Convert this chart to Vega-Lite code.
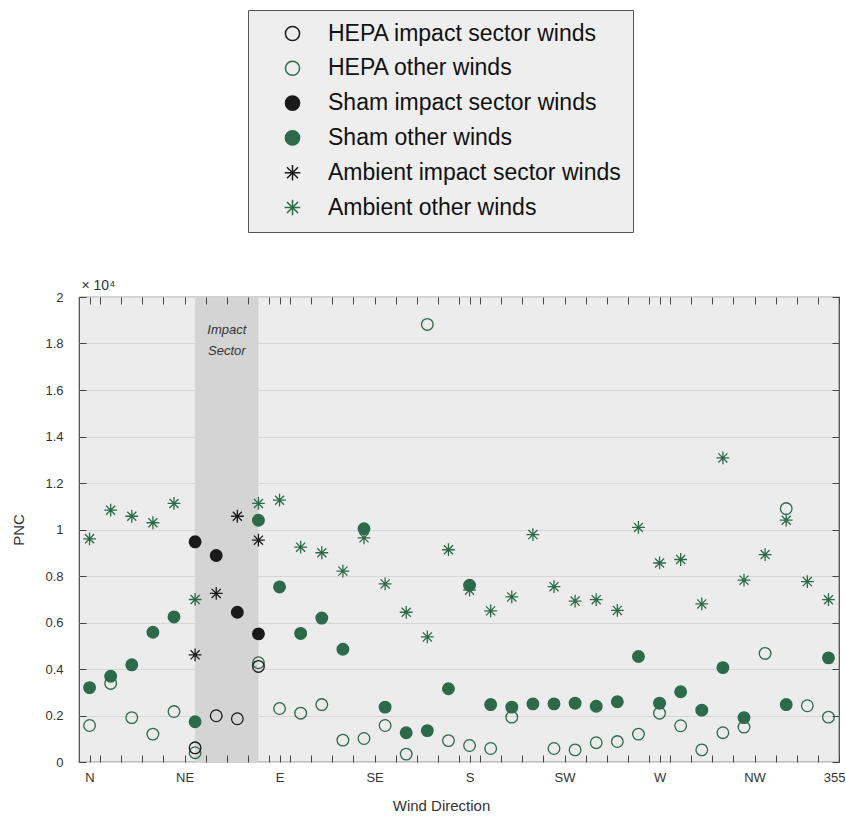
{
  "$schema": "https://vega.github.io/schema/vega-lite/v6.json",
  "width": 760,
  "height": 465,
  "autosize": {"type": "none"},
  "padding": {"left": 79, "top": 297, "right": 7, "bottom": 56},
  "background": "white",
  "config": {
    "font": "Liberation Sans",
    "view": {"fill": "#ececec", "stroke": "#444444", "strokeWidth": 1.2},
    "axis": {
      "domain": false,
      "labelFont": "Liberation Sans",
      "labelFontSize": 13,
      "labelColor": "#333333",
      "tickColor": "#444444",
      "tickWidth": 1,
      "titleFont": "Liberation Sans",
      "titleFontSize": 15,
      "titleFontWeight": "normal",
      "titleColor": "#333333"
    }
  },
  "resolve": {"axis": {"x": "independent", "y": "independent"}},
  "layer": [
    {
      "data": {"values": [{"from": 50, "to": 80}]},
      "mark": {"type": "rect", "color": "#d4d4d4"},
      "encoding": {
        "x": {
          "field": "from",
          "type": "quantitative",
          "scale": {"domain": [-5, 355], "nice": false, "zero": false},
          "axis": {
            "orient": "bottom",
            "values": [0, 5, 15, 25, 35, 45, 55, 65, 75, 85, 90, 95, 105, 115, 125, 135, 145, 155, 165, 175, 180, 185, 195, 205, 215, 225, 235, 245, 255, 265, 270, 275, 285, 295, 305, 315, 325, 335, 345, 355],
            "labelExpr": "datum.value == 0 ? 'N' : datum.value == 45 ? 'NE' : datum.value == 90 ? 'E' : datum.value == 135 ? 'SE' : datum.value == 180 ? 'S' : datum.value == 225 ? 'SW' : datum.value == 270 ? 'W' : datum.value == 315 ? 'NW' : datum.value == 355 ? '355' : ''",
            "labelOverlap": false,
            "labelFlush": true,
            "labelFlushOffset": 6,
            "tickSize": -7,
            "labelPadding": 16,
            "grid": false,
            "title": "Wind Direction",
            "titlePadding": 14,
            "titleX": 362,
            "zindex": 1
          }
        },
        "x2": {"field": "to"},
        "y": {
          "datum": 0,
          "type": "quantitative",
          "scale": {"domain": [0, 20000], "nice": false, "zero": true},
          "axis": {
            "orient": "left",
            "values": [0, 2000, 4000, 6000, 8000, 10000, 12000, 14000, 16000, 18000, 20000],
            "labelExpr": "format(datum.value / 10000, '~g')",
            "grid": true,
            "gridColor": "#d6d6d6",
            "gridWidth": 1,
            "tickSize": -7,
            "labelPadding": 23,
            "title": "PNC",
            "titlePadding": 18,
            "zindex": 0
          }
        },
        "y2": {"datum": 20000}
      }
    },
    {
      "data": {
        "values": [
          {"dir": 0, "pnc": 9600, "series": "Ambient other winds"},
          {"dir": 10, "pnc": 10830, "series": "Ambient other winds"},
          {"dir": 20, "pnc": 10570, "series": "Ambient other winds"},
          {"dir": 30, "pnc": 10290, "series": "Ambient other winds"},
          {"dir": 40, "pnc": 11120, "series": "Ambient other winds"},
          {"dir": 50, "pnc": 6990, "series": "Ambient other winds"},
          {"dir": 80, "pnc": 11120, "series": "Ambient other winds"},
          {"dir": 90, "pnc": 11260, "series": "Ambient other winds"},
          {"dir": 100, "pnc": 9240, "series": "Ambient other winds"},
          {"dir": 110, "pnc": 9000, "series": "Ambient other winds"},
          {"dir": 120, "pnc": 8210, "series": "Ambient other winds"},
          {"dir": 130, "pnc": 9640, "series": "Ambient other winds"},
          {"dir": 140, "pnc": 7660, "series": "Ambient other winds"},
          {"dir": 150, "pnc": 6440, "series": "Ambient other winds"},
          {"dir": 160, "pnc": 5380, "series": "Ambient other winds"},
          {"dir": 170, "pnc": 9130, "series": "Ambient other winds"},
          {"dir": 180, "pnc": 7390, "series": "Ambient other winds"},
          {"dir": 190, "pnc": 6500, "series": "Ambient other winds"},
          {"dir": 200, "pnc": 7100, "series": "Ambient other winds"},
          {"dir": 210, "pnc": 9780, "series": "Ambient other winds"},
          {"dir": 220, "pnc": 7540, "series": "Ambient other winds"},
          {"dir": 230, "pnc": 6920, "series": "Ambient other winds"},
          {"dir": 240, "pnc": 6980, "series": "Ambient other winds"},
          {"dir": 250, "pnc": 6520, "series": "Ambient other winds"},
          {"dir": 260, "pnc": 10090, "series": "Ambient other winds"},
          {"dir": 270, "pnc": 8560, "series": "Ambient other winds"},
          {"dir": 280, "pnc": 8710, "series": "Ambient other winds"},
          {"dir": 290, "pnc": 6800, "series": "Ambient other winds"},
          {"dir": 300, "pnc": 13080, "series": "Ambient other winds"},
          {"dir": 310, "pnc": 7820, "series": "Ambient other winds"},
          {"dir": 320, "pnc": 8920, "series": "Ambient other winds"},
          {"dir": 330, "pnc": 10400, "series": "Ambient other winds"},
          {"dir": 340, "pnc": 7760, "series": "Ambient other winds"},
          {"dir": 350, "pnc": 6980, "series": "Ambient other winds"},
          {"dir": 50, "pnc": 4610, "series": "Ambient impact sector winds"},
          {"dir": 60, "pnc": 7250, "series": "Ambient impact sector winds"},
          {"dir": 70, "pnc": 10570, "series": "Ambient impact sector winds"},
          {"dir": 80, "pnc": 9540, "series": "Ambient impact sector winds"},
          {"dir": 0, "pnc": 3200, "series": "Sham other winds"},
          {"dir": 10, "pnc": 3690, "series": "Sham other winds"},
          {"dir": 20, "pnc": 4180, "series": "Sham other winds"},
          {"dir": 30, "pnc": 5580, "series": "Sham other winds"},
          {"dir": 40, "pnc": 6240, "series": "Sham other winds"},
          {"dir": 50, "pnc": 1730, "series": "Sham other winds"},
          {"dir": 80, "pnc": 10400, "series": "Sham other winds"},
          {"dir": 90, "pnc": 7530, "series": "Sham other winds"},
          {"dir": 100, "pnc": 5530, "series": "Sham other winds"},
          {"dir": 110, "pnc": 6190, "series": "Sham other winds"},
          {"dir": 120, "pnc": 4850, "series": "Sham other winds"},
          {"dir": 130, "pnc": 10030, "series": "Sham other winds"},
          {"dir": 140, "pnc": 2360, "series": "Sham other winds"},
          {"dir": 150, "pnc": 1260, "series": "Sham other winds"},
          {"dir": 160, "pnc": 1350, "series": "Sham other winds"},
          {"dir": 170, "pnc": 3150, "series": "Sham other winds"},
          {"dir": 180, "pnc": 7600, "series": "Sham other winds"},
          {"dir": 190, "pnc": 2470, "series": "Sham other winds"},
          {"dir": 200, "pnc": 2360, "series": "Sham other winds"},
          {"dir": 210, "pnc": 2500, "series": "Sham other winds"},
          {"dir": 220, "pnc": 2500, "series": "Sham other winds"},
          {"dir": 230, "pnc": 2530, "series": "Sham other winds"},
          {"dir": 240, "pnc": 2400, "series": "Sham other winds"},
          {"dir": 250, "pnc": 2590, "series": "Sham other winds"},
          {"dir": 260, "pnc": 4540, "series": "Sham other winds"},
          {"dir": 270, "pnc": 2530, "series": "Sham other winds"},
          {"dir": 280, "pnc": 3020, "series": "Sham other winds"},
          {"dir": 290, "pnc": 2230, "series": "Sham other winds"},
          {"dir": 300, "pnc": 4060, "series": "Sham other winds"},
          {"dir": 310, "pnc": 1910, "series": "Sham other winds"},
          {"dir": 330, "pnc": 2470, "series": "Sham other winds"},
          {"dir": 350, "pnc": 4480, "series": "Sham other winds"},
          {"dir": 50, "pnc": 9470, "series": "Sham impact sector winds"},
          {"dir": 60, "pnc": 8880, "series": "Sham impact sector winds"},
          {"dir": 70, "pnc": 6440, "series": "Sham impact sector winds"},
          {"dir": 80, "pnc": 5510, "series": "Sham impact sector winds"},
          {"dir": 0, "pnc": 1570, "series": "HEPA other winds"},
          {"dir": 10, "pnc": 3380, "series": "HEPA other winds"},
          {"dir": 20, "pnc": 1910, "series": "HEPA other winds"},
          {"dir": 30, "pnc": 1200, "series": "HEPA other winds"},
          {"dir": 40, "pnc": 2170, "series": "HEPA other winds"},
          {"dir": 50, "pnc": 400, "series": "HEPA other winds"},
          {"dir": 80, "pnc": 4270, "series": "HEPA other winds"},
          {"dir": 90, "pnc": 2300, "series": "HEPA other winds"},
          {"dir": 100, "pnc": 2100, "series": "HEPA other winds"},
          {"dir": 110, "pnc": 2470, "series": "HEPA other winds"},
          {"dir": 120, "pnc": 940, "series": "HEPA other winds"},
          {"dir": 130, "pnc": 1010, "series": "HEPA other winds"},
          {"dir": 140, "pnc": 1570, "series": "HEPA other winds"},
          {"dir": 150, "pnc": 340, "series": "HEPA other winds"},
          {"dir": 160, "pnc": 18820, "series": "HEPA other winds"},
          {"dir": 170, "pnc": 920, "series": "HEPA other winds"},
          {"dir": 180, "pnc": 710, "series": "HEPA other winds"},
          {"dir": 190, "pnc": 580, "series": "HEPA other winds"},
          {"dir": 200, "pnc": 1930, "series": "HEPA other winds"},
          {"dir": 220, "pnc": 580, "series": "HEPA other winds"},
          {"dir": 230, "pnc": 520, "series": "HEPA other winds"},
          {"dir": 240, "pnc": 830, "series": "HEPA other winds"},
          {"dir": 250, "pnc": 880, "series": "HEPA other winds"},
          {"dir": 260, "pnc": 1200, "series": "HEPA other winds"},
          {"dir": 270, "pnc": 2100, "series": "HEPA other winds"},
          {"dir": 280, "pnc": 1560, "series": "HEPA other winds"},
          {"dir": 290, "pnc": 520, "series": "HEPA other winds"},
          {"dir": 300, "pnc": 1260, "series": "HEPA other winds"},
          {"dir": 310, "pnc": 1500, "series": "HEPA other winds"},
          {"dir": 320, "pnc": 4670, "series": "HEPA other winds"},
          {"dir": 330, "pnc": 10900, "series": "HEPA other winds"},
          {"dir": 340, "pnc": 2420, "series": "HEPA other winds"},
          {"dir": 350, "pnc": 1930, "series": "HEPA other winds"},
          {"dir": 50, "pnc": 610, "series": "HEPA impact sector winds"},
          {"dir": 60, "pnc": 1990, "series": "HEPA impact sector winds"},
          {"dir": 70, "pnc": 1860, "series": "HEPA impact sector winds"},
          {"dir": 80, "pnc": 4110, "series": "HEPA impact sector winds"}
        ]
      },
      "mark": {"type": "point", "opacity": 1, "strokeWidth": 1.3, "size": 135},
      "encoding": {
        "x": {
          "field": "dir",
          "type": "quantitative",
          "axis": {
            "orient": "top",
            "values": [0, 5, 15, 25, 35, 45, 55, 65, 75, 85, 90, 95, 105, 115, 125, 135, 145, 155, 165, 175, 180, 185, 195, 205, 215, 225, 235, 245, 255, 265, 270, 275, 285, 295, 305, 315, 325, 335, 345, 355],
            "labels": false,
            "tickSize": -7,
            "grid": false,
            "title": "× 10⁴",
            "titleFont": "Liberation Sans",
            "titleFontSize": 14,
            "titleAnchor": "start",
            "titleAlign": "left",
            "titleX": 2,
            "titlePadding": 4,
            "zindex": 1
          }
        },
        "y": {
          "field": "pnc",
          "type": "quantitative",
          "axis": {
            "orient": "right",
            "values": [0, 2000, 4000, 6000, 8000, 10000, 12000, 14000, 16000, 18000, 20000],
            "labels": false,
            "tickSize": -7,
            "grid": false,
            "title": null,
            "zindex": 1
          }
        },
        "shape": {
          "field": "series",
          "type": "nominal",
          "scale": {
            "domain": ["HEPA impact sector winds", "HEPA other winds", "Sham impact sector winds", "Sham other winds", "Ambient impact sector winds", "Ambient other winds"],
            "range": ["circle", "circle", "circle", "circle", "M-1.1,0L1.1,0M0,-1.1L0,1.1M-0.78,-0.78L0.78,0.78M-0.78,0.78L0.78,-0.78", "M-1.1,0L1.1,0M0,-1.1L0,1.1M-0.78,-0.78L0.78,0.78M-0.78,0.78L0.78,-0.78"]
          },
          "legend": {
            "orient": "none",
            "legendX": 169,
            "legendY": -287,
            "title": null,
            "padding": 12,
            "rowPadding": 10.8,
            "symbolOffset": 21,
            "labelOffset": 24,
            "symbolSize": 200,
            "symbolStrokeWidth": 1.5,
            "labelFont": "Liberation Sans",
            "labelFontSize": 23,
            "labelColor": "#111111",
            "labelLimit": 500,
            "strokeColor": "#555555",
            "fillColor": "#eeeeee"
          }
        },
        "stroke": {
          "field": "series",
          "type": "nominal",
          "scale": {
            "domain": ["HEPA impact sector winds", "HEPA other winds", "Sham impact sector winds", "Sham other winds", "Ambient impact sector winds", "Ambient other winds"],
            "range": ["#1a1a1a", "#2c6a4b", "#1a1a1a", "#2c6a4b", "#1a1a1a", "#2c6a4b"]
          }
        },
        "fill": {
          "field": "series",
          "type": "nominal",
          "scale": {
            "domain": ["HEPA impact sector winds", "HEPA other winds", "Sham impact sector winds", "Sham other winds", "Ambient impact sector winds", "Ambient other winds"],
            "range": ["transparent", "transparent", "#1a1a1a", "#2c6a4b", "transparent", "transparent"]
          }
        }
      }
    },
    {
      "data": {"values": [{"dir": 65, "pnc": 18580, "label": "Impact\nSector"}]},
      "mark": {"type": "text", "fontStyle": "italic", "fontSize": 13, "color": "#333333", "lineBreak": "\n", "lineHeight": 21, "baseline": "middle"},
      "encoding": {
        "x": {"field": "dir", "type": "quantitative", "axis": null},
        "y": {"field": "pnc", "type": "quantitative", "axis": null},
        "text": {"field": "label"}
      }
    }
  ]
}
